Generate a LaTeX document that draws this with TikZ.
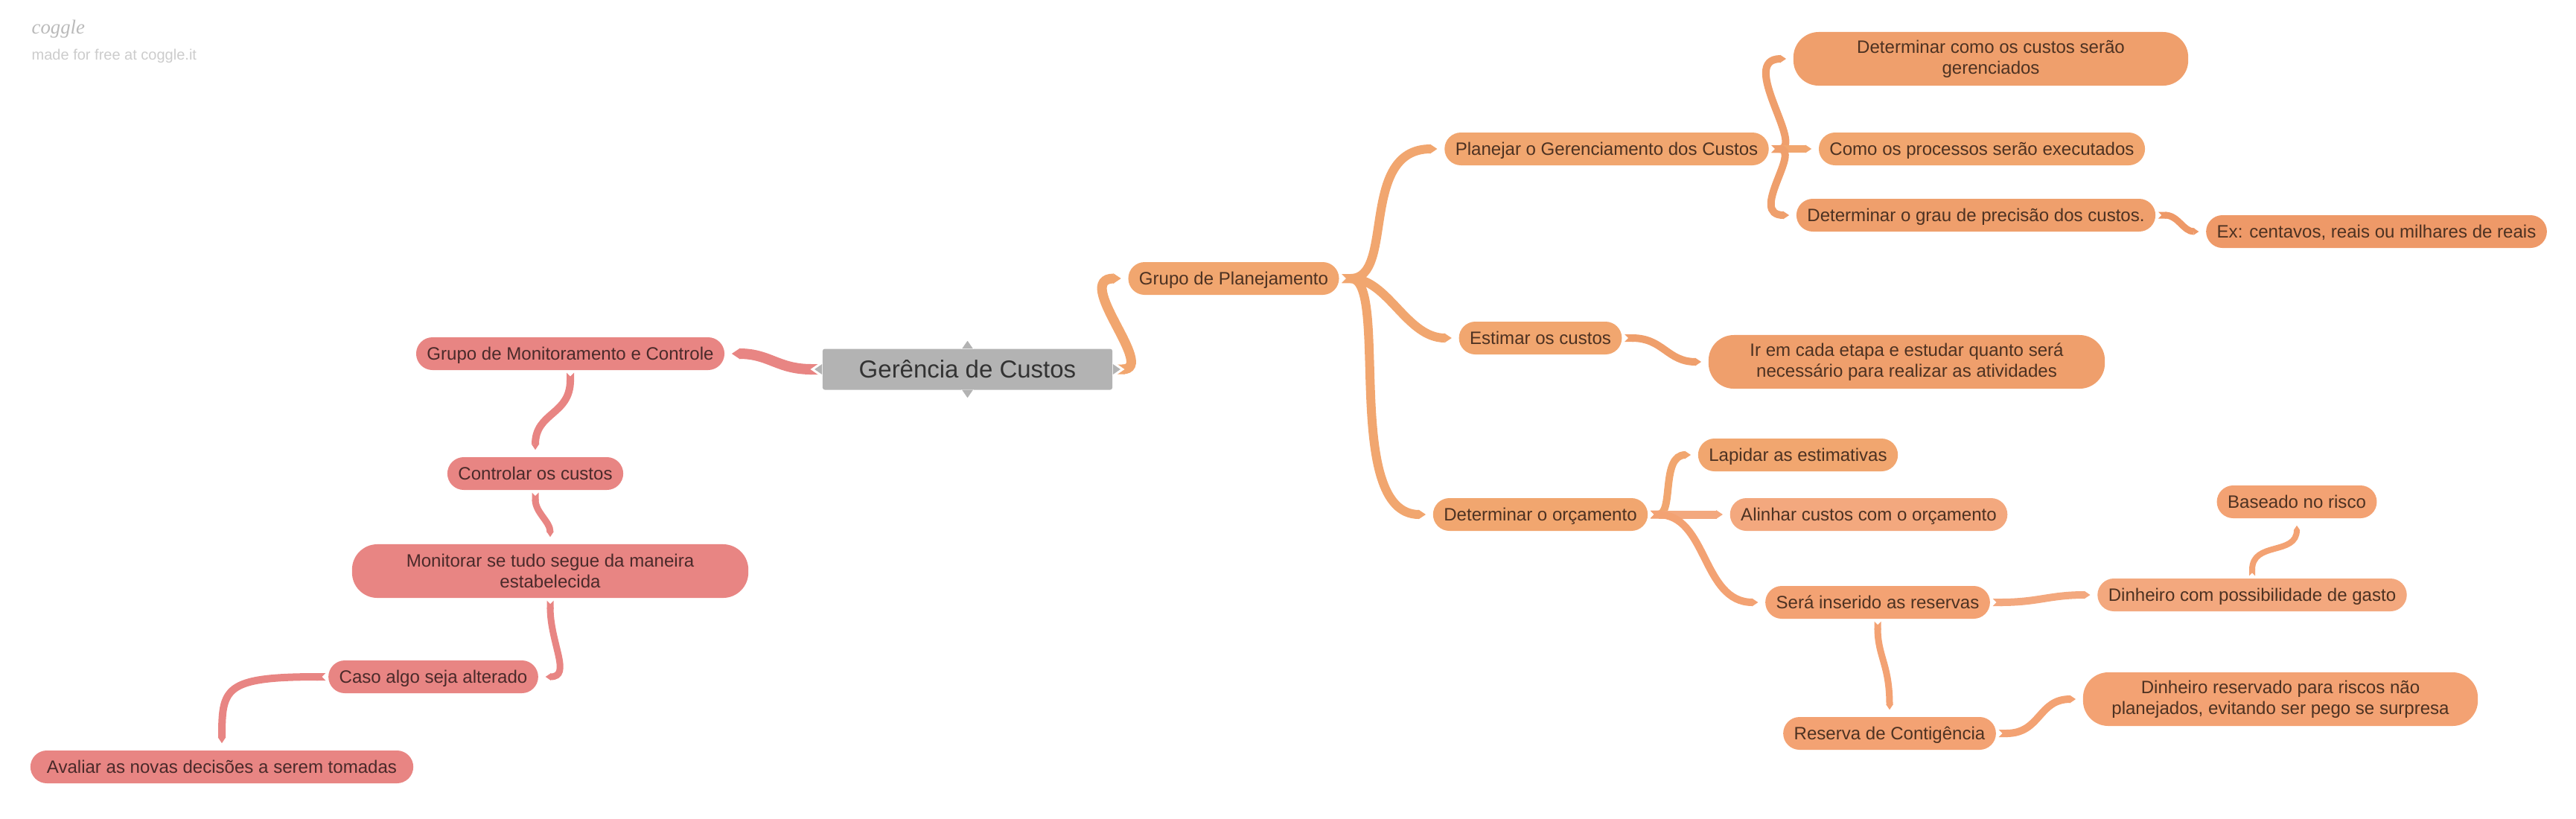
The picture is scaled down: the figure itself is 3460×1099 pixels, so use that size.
\documentclass[tikz,border=0pt]{standalone}
\usepackage{fontspec}
\setmainfont{Liberation Sans}
\newfontfamily\logofont{Liberation Serif}
\usetikzlibrary{arrows.meta}
\definecolor{orangeA}{HTML}{F1A66F}
\definecolor{orangeB}{HTML}{EF9F6C}
\definecolor{orangeC}{HTML}{F3A87E}
\definecolor{orangeD}{HTML}{EE9968}
\definecolor{orangeE}{HTML}{F3A273}
\definecolor{redA}{HTML}{E88583}
\definecolor{rootgray}{HTML}{B3B3B3}
\definecolor{warmtext}{HTML}{4D3222}
\definecolor{coldtext}{HTML}{4A2A2A}
\begin{document}
\begin{tikzpicture}[
    x=0.01cm,y=-0.01cm,
    box/.style={fill=#1,rounded corners=2.2mm,inner xsep=1.45mm,inner ysep=0pt,minimum height=4.4mm,
      text height=2mm,text depth=0.4mm,font=\fontsize{6.84}{8}\selectfont},
    wide/.style={fill=#1,rounded corners=3.4mm,inner sep=0pt,minimum height=7.2mm,align=center,
      font=\fontsize{6.84}{8}\selectfont},
    warm/.style={text=warmtext},
    cold/.style={text=coldtext},
    link/.style={line width=#1,{Triangle Cap[reversed]}-{Triangle[length=0pt 0.8,width=0pt 1.0]},shorten <=0.3mm,shorten >=0.9mm},
  ]
  \useasboundingbox (0,0) rectangle (3460,1099);
  \node[anchor=base west,text=black!27,font=\logofont\fontsize{7.6}{8}\selectfont\itshape,inner sep=0pt] (logo) at (42,45) {coggle};
  \node[anchor=base west,text=black!20,font=\fontsize{5.69}{7}\selectfont,inner sep=0pt] (free) at (42,80) {made for free at coggle.it};

  \node[fill=rootgray,rounded corners=0.3mm,minimum width=3.89cm,minimum height=5.5mm,inner sep=0pt,
    text=black!80,font=\fontsize{9.38}{11}\selectfont] (root) at (1299.5,496) {Gerência de Custos};

  % right side
  \node[box=orangeA,warm] (plan) at (1657,374) {Grupo de Planejamento};
  \node[box=orangeA,warm] (manage) at (2158,200) {Planejar o Gerenciamento dos Custos};
  \node[wide=orangeB,warm,minimum width=5.3cm] (how) at (2674,79) {Determinar como os custos serão\\gerenciados};
  \node[box=orangeA,warm] (process) at (2662,200) {Como os processos serão executados};
  \node[box=orangeB,warm] (grade) at (2654,289) {Determinar o grau de precisão dos custos.};
  \node[box=orangeD,warm] (cents) at (3192,311) {Ex: centavos, reais ou milhares de reais};
  \node[box=orangeA,warm] (estimate) at (2069,454) {Estimar os custos};
  \node[wide=orangeB,warm,minimum width=5.32cm] (steps) at (2561,486) {Ir em cada etapa e estudar quanto será\\necessário para realizar as atividades};
  \node[box=orangeA,warm] (budget) at (2069,691) {Determinar o orçamento};
  \node[box=orangeA,warm] (refine) at (2415,611) {Lapidar as estimativas};
  \node[box=orangeC,warm] (align) at (2510,691) {Alinhar custos com o orçamento};
  \node[box=orangeE,warm] (reserve) at (2522,809) {Será inserido as reservas};
  \node[box=orangeC,warm] (money) at (3025,799) {Dinheiro com possibilidade de gasto};
  \node[box=orangeE,warm] (risk) at (3085,674) {Baseado no risco};
  \node[box=orangeE,warm] (contingency) at (2538,985) {Reserva de Contigência};
  \node[wide=orangeE,warm,minimum width=5.3cm] (saved) at (3063,939) {Dinheiro reservado para riscos não\\planejados, evitando ser pego se surpresa};

  % left side
  \node[box=redA,cold] (watch) at (766,475) {Grupo de Monitoramento e Controle};
  \node[box=redA,cold] (control) at (719,636) {Controlar os custos};
  \node[wide=redA,cold,minimum width=5.32cm] (follow) at (739,767) {Monitorar se tudo segue da maneira\\estabelecida};
  \node[box=redA,cold] (change) at (582,909) {Caso algo seja alterado};
  \node[box=redA,cold,minimum width=5.14cm] (assess) at (298,1030) {Avaliar as novas decisões a serem tomadas};

  \draw[link=1.3mm,orangeA,shorten <=0pt] (root.east) .. controls +(60,0) and +(-75,0) .. (plan.west);
  \draw[link=1.2mm,orangeA] (plan.east) .. controls +(75,0) and +(-115,0) .. (manage.west);
  \draw[link=1.2mm,orangeA] (plan.east) .. controls +(65,0) and +(-70,0) .. (estimate.west);
  \draw[link=1.2mm,orangeA] (plan.east) .. controls +(68,0) and +(-122,0) .. (budget.west);
  \draw[link=1mm,orangeB] (manage.east) .. controls +(50,0) and +(-75,0) .. (how.west);
  \draw[link=1mm,orangeA] (manage.east) -- (process.west);
  \draw[link=1mm,orangeB] (manage.east) .. controls +(45,0) and +(-65,0) .. (grade.west);
  \draw[link=0.9mm,orangeD] (grade.east) .. controls +(30,0) and +(-30,0) .. (cents.west);
  \draw[link=1mm,orangeB] (estimate.east) .. controls +(55,0) and +(-55,0) .. (steps.west);
  \draw[link=1mm,orangeA] (budget.east) .. controls +(35,0) and +(-50,0) .. (refine.west);
  \draw[link=1.1mm,orangeC] (budget.east) -- (align.west);
  \draw[link=1mm,orangeE] (budget.east) .. controls +(80,0) and +(-85,0) .. (reserve.west);
  \draw[link=1mm,orangeC] (reserve.east) .. controls +(65,0) and +(-65,0) .. (money.west);
  \draw[link=0.9mm,orangeE] (reserve.south) .. controls +(0,50) and +(0,-70) .. (contingency.north);
  \draw[link=1mm,orangeE] (contingency.east) .. controls +(60,0) and +(-60,0) .. (saved.west);
  \draw[link=0.8mm,orangeE] (money.north) .. controls +(0,-50) and +(0,50) .. (risk.south);

  \draw[link=1.4mm,redA,shorten <=0pt] (root.west) .. controls +(-60,0) and +(60,0) .. (watch.east);
  \draw[link=1mm,redA] (watch.south) .. controls +(0,60) and +(0,-60) .. (control.north);
  \draw[link=0.9mm,redA] (control.south) .. controls +(0,30) and +(0,-30) .. (follow.north);
  \draw[link=0.9mm,redA] (follow.south) .. controls +(0,60) and +(45,0) .. (change.east);
  \draw[link=1mm,redA] (change.west) .. controls +(-140,0) and +(0,-83) .. (assess.north);

  \foreach \a/\dx/\dy in {north/0/-1,south/0/1,east/1/0,west/-1/0}
    \draw[white,line width=0.3mm,fill=rootgray] (root.\a) +(\dy*9,\dx*9) -- +(\dx*13,\dy*13) -- +(-\dy*9,-\dx*9);
\end{tikzpicture}
\end{document}
